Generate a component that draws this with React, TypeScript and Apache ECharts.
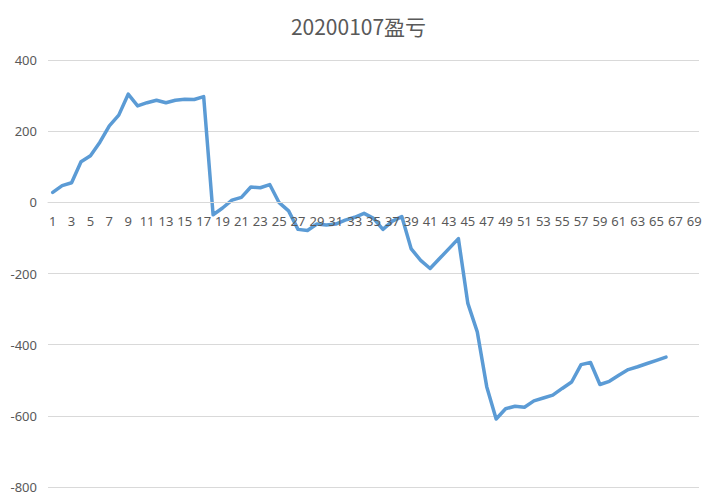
import React, { useEffect, useRef } from "react";
import * as echarts from "echarts";

const titleText = "20200107盈亏";
const categories: string[] = Array.from({ length: 69 }, (_, i) => String(i + 1));
const profitLoss: number[] = [
  28, 47, 55, 114, 131, 169, 215, 245, 304, 271,
  280, 287, 280, 287, 290, 289, 297, -35, -16, 6,
  14, 43, 41, 50, -1, -24, -76, -79, -61, -64,
  -61, -50, -42, -31, -45, -76, -53, -40, -131, -163,
  -186, -158, -130, -102, -284, -364, -518, -609, -580, -573,
  -576, -558, -550, -542, -523, -505, -456, -450, -512, -503,
  -486, -470, -462, -453, -444, -435,
];
const yMin = -800;
const yMax = 400;
const yStep = 200;

const GRID_TOP = 60;
const GRID_BOTTOM = 13;
const CHART_H = 500;

export default function App() {
  const ref = useRef<HTMLDivElement>(null);
  useEffect(() => {
    if (!ref.current) return;
    const chart = echarts.init(ref.current, null, { renderer: "svg" });
    const plotH = CHART_H - GRID_TOP - GRID_BOTTOM;
    const zeroOffset = -plotH * (0 - yMin) / (yMax - yMin);
    chart.setOption({
      animation: false,
      backgroundColor: "#ffffff",
      title: {
        text: titleText,
        left: "center",
        top: 10,
        textStyle: {
          color: "#595959",
          fontSize: 21,
          fontWeight: "normal",
          fontFamily: "Noto Sans CJK SC",
        },
      },
      grid: {
        left: 48,
        right: 18,
        top: GRID_TOP,
        bottom: GRID_BOTTOM,
        containLabel: false,
        outerBoundsMode: "none",
      },
      xAxis: {
        type: "category",
        data: categories,
        boundaryGap: true,
        position: "bottom",
        offset: zeroOffset,
        z: 5,
        axisLine: { onZero: false, lineStyle: { color: "#d9d9d9", width: 1 } },
        axisTick: { show: false },
        axisLabel: {
          interval: 1,
          color: "#595959",
          fontSize: 13,
          margin: 12,
          fontFamily: "Noto Sans",
        },
        splitLine: { show: false },
      },
      yAxis: {
        type: "value",
        min: yMin,
        max: yMax,
        interval: yStep,
        axisLine: { show: false },
        axisTick: { show: false },
        axisLabel: {
          color: "#595959",
          fontSize: 13,
          margin: 11,
          fontFamily: "Noto Sans",
        },
        splitLine: { lineStyle: { color: "#d9d9d9", width: 1 } },
      },
      series: [
        {
          type: "line",
          data: profitLoss,
          symbol: "none",
          z: 2,
          lineStyle: { color: "#5B9BD5", width: 3.5, cap: "round", join: "round" },
          itemStyle: { color: "#5B9BD5" },
        },
      ],
    });
    return () => chart.dispose();
  }, []);
  return <div ref={ref} style={{ width: 717, height: 500, position: "absolute", left: 0, top: 0 }} />;
}
